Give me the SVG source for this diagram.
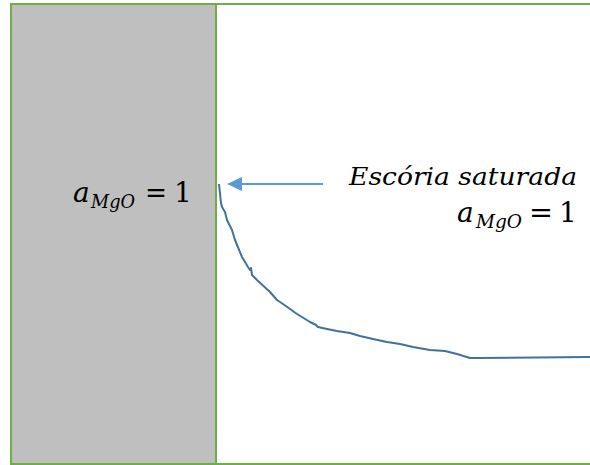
<svg xmlns="http://www.w3.org/2000/svg" width="590" height="465" viewBox="0 0 590 465">
<defs>
<style>
.frame{fill:#ffffff;stroke:#70ad47;stroke-width:2}
.wall{fill:#bfbfbf;stroke:#70ad47;stroke-width:2}
.m{font-family:"DejaVu Serif","Liberation Serif",serif;font-style:italic;fill:#000}
.n{font-family:"DejaVu Serif","Liberation Serif",serif;fill:#000}
.curve{fill:none;stroke:#41719c;stroke-width:2;stroke-linejoin:round}
.arrow{fill:none;stroke:#5b9bd5;stroke-width:2}
.head{fill:#5b9bd5}
</style>
</defs>
<rect width="590" height="465" fill="#ffffff"/>
<g id="frame">
<rect class="frame" x="11" y="4" width="600" height="460"/>
</g>
<g id="wall">
<rect class="wall" x="11" y="4" width="205" height="460"/>
<text class="m" x="73" y="202" font-size="28">a</text>
<text class="m" x="91" y="208" font-size="19" textLength="44" lengthAdjust="spacingAndGlyphs">MgO</text>
<text class="n" x="145" y="202" font-size="28" textLength="22" lengthAdjust="spacingAndGlyphs">=</text>
<text class="n" x="174" y="202" font-size="28">1</text>
</g>
<g id="label-slag">
<text class="m" x="349" y="185" font-size="24" textLength="228" lengthAdjust="spacingAndGlyphs">Escória saturada</text>
<text class="m" x="457" y="222" font-size="28">a</text>
<text class="m" x="476" y="228" font-size="19" textLength="46" lengthAdjust="spacingAndGlyphs">MgO</text>
<text class="n" x="529" y="222" font-size="28" textLength="24" lengthAdjust="spacingAndGlyphs">=</text>
<text class="n" x="559" y="222" font-size="28">1</text>
</g>
<g id="profile">
<path class="curve" d="M219,184 L221,203 L222,207 L225,212 L227,220 L232,230 L235,240 L242,257 L245,262 L248,267 L250,270 L251,268 L252,275 L257,280 L270,292 L277,300 L283,304 L297,314 L310,322 L316,325 L318,327 L327,329 L337,331 L350,333 L360,336 L373,339 L387,342 L400,344 L413,347 L430,350 L445,351 L457,354 L470,358 L477,358 L590,357"/>
</g>
<g id="connectors">
<line class="arrow" x1="323" y1="184" x2="240" y2="184"/>
<polygon class="head" points="227,184 242,177 242,191"/>
</g>
</svg>
